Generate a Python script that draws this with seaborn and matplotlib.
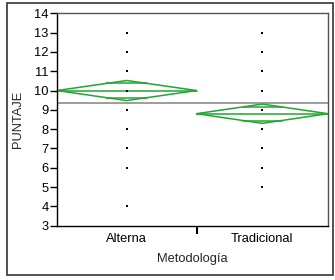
import numpy as np
import pandas as pd
import matplotlib
matplotlib.use('Agg')
import matplotlib.pyplot as plt
import seaborn as sns
from matplotlib.patches import Rectangle

# data
groups = ['Alterna', 'Tradicional']
counts = [17, 16]  # group sizes (set the width of each diamond)
alterna_scores = [4, 6, 7, 8, 9, 10, 11, 12, 13]
tradicional_scores = [5, 6, 7, 8, 9, 10, 11, 12, 13]
means = [10.0, 8.8]
ci_half = [0.52, 0.5]
grand_mean = 9.35
y_ticks = [3, 4, 5, 6, 7, 8, 9, 10, 11, 12, 13, 14]

sns.set_theme(style='white')
plt.rcParams['font.family'] = ['Liberation Sans', 'DejaVu Sans']

fig = plt.figure(figsize=(3.35, 2.80), dpi=100)
ax = fig.add_axes([0.170, 0.194, 0.809, 0.7585])

# x extents proportional to group size
edges = np.concatenate([[0], np.cumsum(counts)]) / sum(counts)
centers = (edges[:-1] + edges[1:]) / 2

rows = []
for g, c, vals in zip(groups, centers, [alterna_scores, tradicional_scores]):
    for v in vals:
        rows.append({'group': g, 'x': c, 'score': v})
df = pd.DataFrame(rows)

green = '#22a531'
ax.axhline(grand_mean, color='#8c8c8c', lw=1.2, zorder=1)

for i in range(len(groups)):
    x0, x1, xc = edges[i], edges[i + 1], centers[i]
    m, h = means[i], ci_half[i]
    ax.plot([x0, xc, x1, xc, x0], [m, m + h, m, m - h, m], color=green, lw=1.1, zorder=2)
    ax.plot([x0, x1], [m, m], color=green, lw=1.1, zorder=2)
    d = h / np.sqrt(2)
    half = (x1 - x0) / 2 * (1 - d / h)
    for yy in [m + d, m - d]:
        ax.plot([xc - half, xc + half], [yy, yy], color=green, lw=1.1, zorder=2)

sns.scatterplot(data=df, x='x', y='score', ax=ax, color='black', s=2.2,
                marker='s', linewidth=0, zorder=3, legend=False)

ax.set_xlim(0, 1)
ax.set_ylim(3, 14)
ax.set_yticks(y_ticks)
ax.set_xticks(centers)
ax.set_xticklabels(groups)
ax.set_xticks(edges[1:-1], minor=True)
ax.tick_params(axis='x', which='major', length=0, pad=5, labelsize=9.3, colors='black')
ax.tick_params(axis='x', which='minor', length=6, width=1.5, direction='out',
               bottom=True, color='black')
ax.tick_params(axis='y', which='major', length=5, width=1, direction='out',
               left=True, pad=1, labelsize=9.3, colors='black')
ax.set_xlabel('Metodología', fontsize=9.3, labelpad=6)
ax.set_ylabel('PUNTAJE', fontsize=9.3, labelpad=7)

for s in ['left', 'bottom']:
    ax.spines[s].set_color('black')
    ax.spines[s].set_linewidth(1)
for s in ['top', 'right']:
    ax.spines[s].set_color('#555555')
    ax.spines[s].set_linewidth(1)

# outer frame round the figure
fig.patches.append(Rectangle((0.021, 0.018), 0.973, 0.971, transform=fig.transFigure,
                             fill=False, edgecolor='#333333', lw=1.2))

fig.savefig('out.png', dpi=100)
